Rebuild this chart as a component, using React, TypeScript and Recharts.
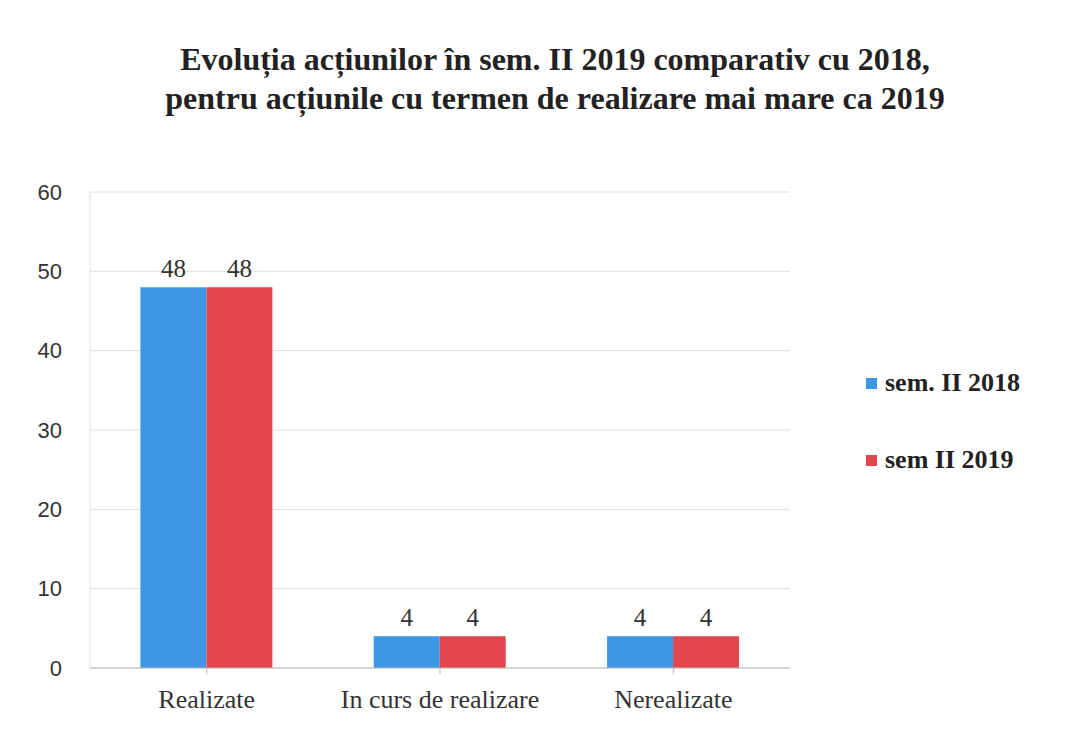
import { BarChart, Bar, XAxis, YAxis, CartesianGrid, LabelList } from 'recharts'

const categories = ['Realizate', 'In curs de realizare', 'Nerealizate']
const sem2018 = [48, 4, 4]
const sem2019 = [48, 4, 4]
const yTicks = [0, 10, 20, 30, 40, 50, 60]
const seriesNames = ['sem. II 2018', 'sem II 2019']

const BLUE = '#3d96e6'
const RED = '#e2474f'

const chartData = categories.map((c, i) => ({ name: c, s2018: sem2018[i], s2019: sem2019[i] }))

const serif = '"Liberation Serif", "Times New Roman", serif'

function LegendBox() {
  const colors = [BLUE, RED]
  return (
    <div
      style={{
        position: 'absolute',
        left: 866,
        top: 364,
        fontFamily: serif,
        fontWeight: 'bold',
        fontSize: 26,
        color: '#222',
      }}
    >
      {seriesNames.map((label, i) => (
        <div key={label} style={{ display: 'flex', alignItems: 'center', height: 38, marginBottom: 39 }}>
          <span style={{ width: 11, height: 11, background: colors[i], marginRight: 8, display: 'inline-block' }} />
          {label}
        </div>
      ))}
    </div>
  )
}

export default function App() {
  return (
    <div style={{ position: 'absolute', left: 0, top: 0, width: 1066, height: 730, background: '#fff' }}>
      <div
        style={{
          position: 'absolute',
          top: 40,
          left: 0,
          width: 1110,
          textAlign: 'center',
          fontFamily: serif,
          fontWeight: 'bold',
          fontSize: 32,
          lineHeight: '39px',
          color: '#222',
        }}
      >
        Evoluția acțiunilor în sem. II 2019 comparativ cu 2018,
        <br />
        pentru acțiunile cu termen de realizare mai mare ca 2019
      </div>
      <div style={{ position: 'absolute', left: 0, top: 0 }}>
        <BarChart
          width={1066}
          height={730}
          data={chartData}
          margin={{ top: 192, right: 276, bottom: 32, left: 0 }}
          barCategoryGap="21.6%"
          barGap={0}
        >
          <CartesianGrid vertical={false} stroke="#d4d4d4" strokeDasharray="3 1" />
          <XAxis
            dataKey="name"
            stroke="#bbbbbb"
            tickLine={{ stroke: '#bbbbbb' }}
            tickSize={6}
            tick={{ fontFamily: serif, fontSize: 26, fill: '#333' }}
            tickMargin={16}
            interval={0}
          />
          <YAxis
            width={90}
            domain={[0, 60]}
            ticks={yTicks}
            axisLine={{ stroke: '#e0e0e0' }}
            tickLine={false}
            tickMargin={22}
            tick={{ fontFamily: '"Liberation Sans", Arial, sans-serif', fontSize: 22, fill: '#333' }}
          />
          <Bar dataKey="s2018" name={seriesNames[0]} fill={BLUE} isAnimationActive={false}>
            <LabelList dataKey="s2018" position="top" offset={10} style={{ fontFamily: serif, fontSize: 25, fill: '#333' }} />
          </Bar>
          <Bar dataKey="s2019" name={seriesNames[1]} fill={RED} isAnimationActive={false}>
            <LabelList dataKey="s2019" position="top" offset={10} style={{ fontFamily: serif, fontSize: 25, fill: '#333' }} />
          </Bar>
        </BarChart>
      </div>
      <LegendBox />
    </div>
  )
}
